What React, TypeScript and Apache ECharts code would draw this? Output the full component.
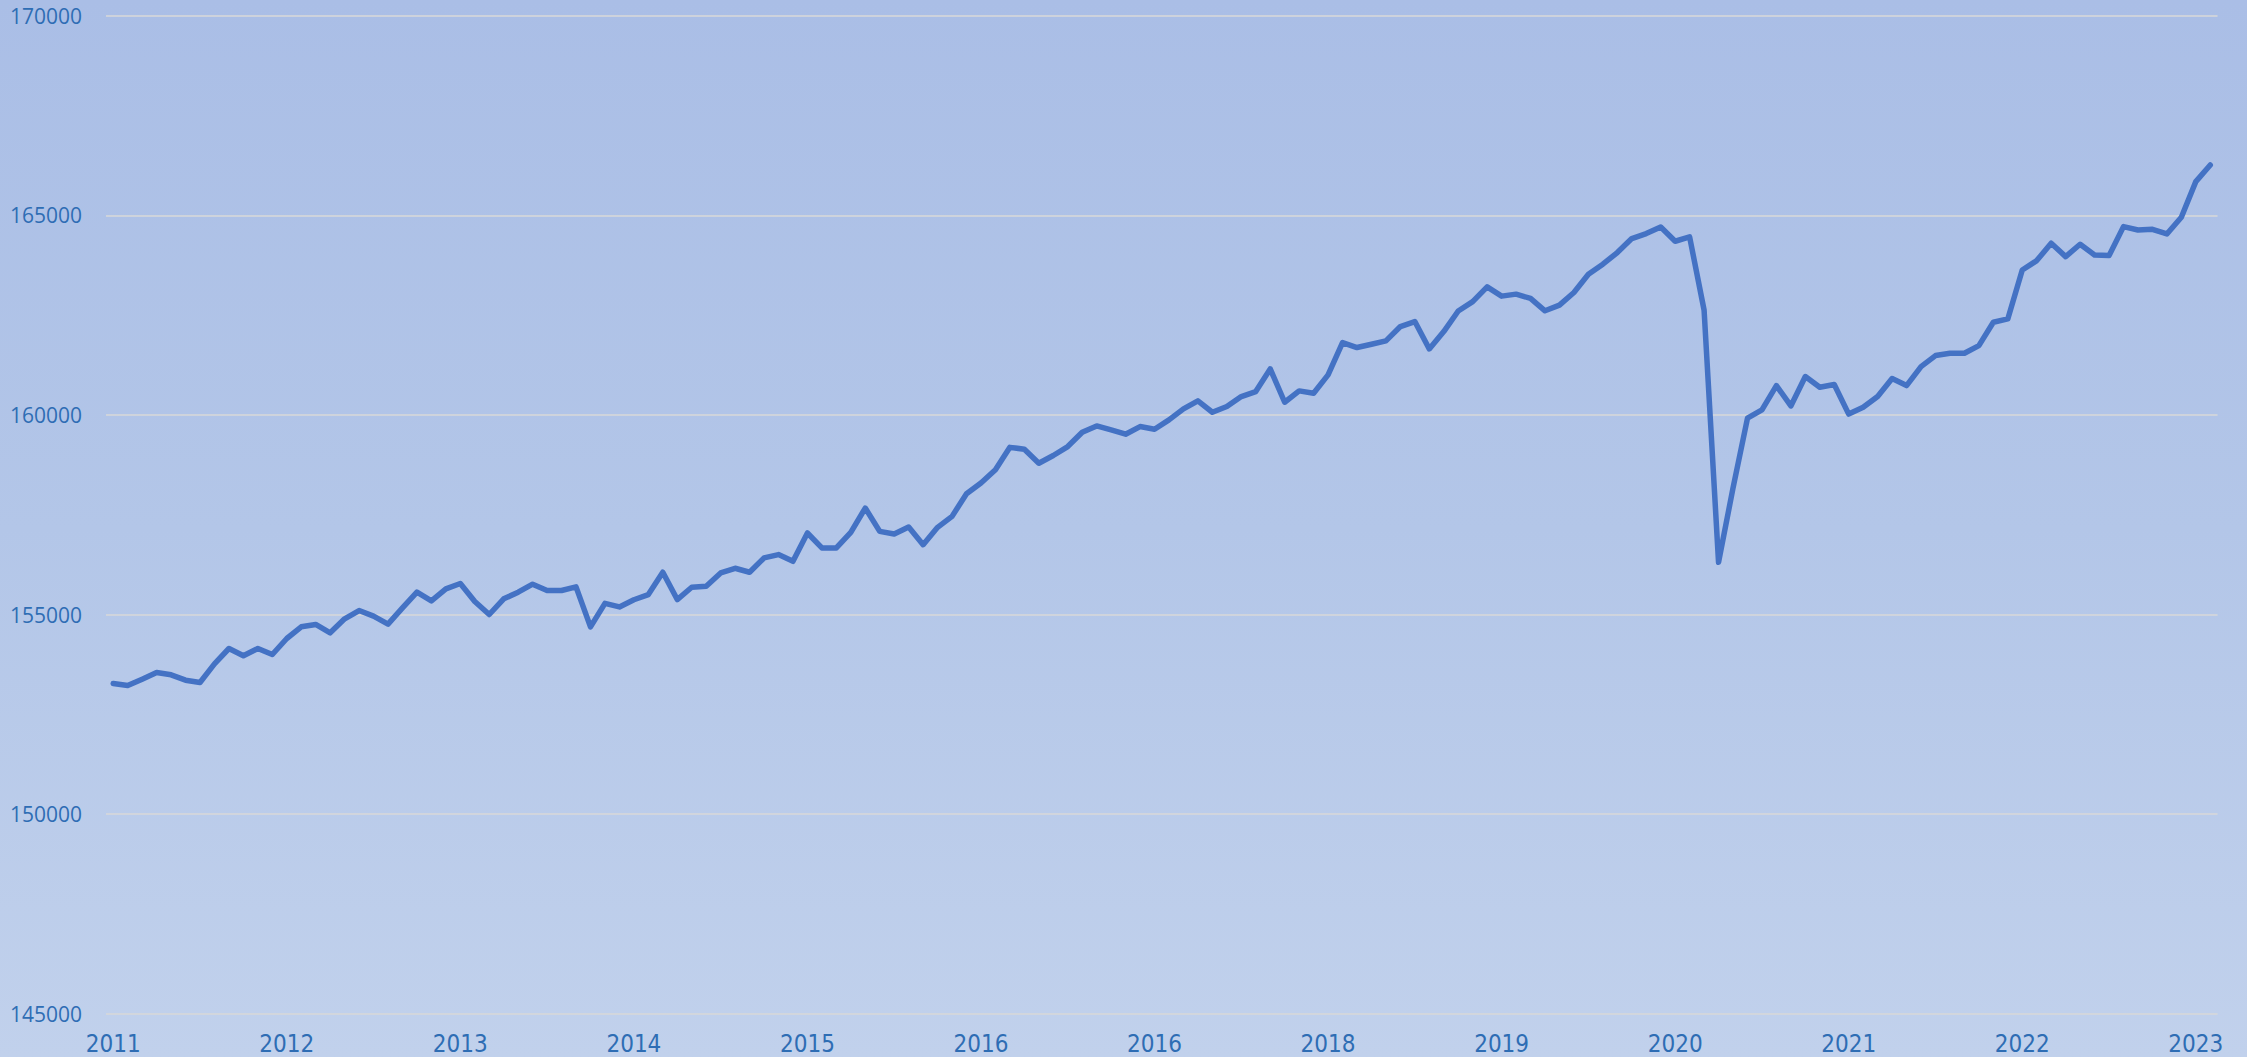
import React, { useEffect, useRef } from "react";
import * as echarts from "echarts";

const startYear = 2011;
const tickLabels = ["2011", "2012", "2013", "2014", "2015", "2016", "2016", "2018", "2019", "2020", "2021", "2022", "2023"];

const values2011 = [153272, 153221, 153380, 153547, 153489, 153355, 153297, 153764, 154148, 153965, 154148, 153998];
const values2012 = [154399, 154691, 154750, 154541, 154891, 155100, 154958, 154758, 155167, 155559, 155342, 155643];
const values2013 = [155777, 155326, 155000, 155392, 155559, 155760, 155601, 155601, 155693, 154690, 155280, 155190];
const values2014 = [155370, 155500, 156058, 155375, 155683, 155708, 156042, 156158, 156058, 156417, 156500, 156333];
const values2015 = [157042, 156667, 156667, 157058, 157667, 157083, 157017, 157192, 156750, 157183, 157458, 158025];
const values2016 = [158292, 158625, 159187, 159141, 158790, 158982, 159207, 159566, 159724, 159624, 159516, 159708];
const values2017 = [159641, 159875, 160150, 160351, 160067, 160209, 160459, 160585, 161152, 160317, 160601, 160543];
const values2018 = [161002, 161812, 161687, 161770, 161854, 162213, 162338, 161653, 162088, 162603, 162836, 163208];
const values2019 = [162975, 163025, 162917, 162608, 162750, 163067, 163525, 163775, 164067, 164417, 164542, 164708];
const values2020 = [164350, 164458, 162625, 156308, 158167, 159917, 160125, 160733, 160225, 160960, 160692, 160760];
const values2021 = [160020, 160190, 160459, 160910, 160735, 161210, 161486, 161544, 161544, 161736, 162321, 162404];
const values2022 = [163631, 163865, 164299, 163965, 164274, 164007, 163990, 164716, 164633, 164649, 164533, 164950];
const values2023 = [165843, 166260];

const seriesValues = [
  ...values2011, ...values2012, ...values2013, ...values2014, ...values2015, ...values2016,
  ...values2017, ...values2018, ...values2019, ...values2020, ...values2021, ...values2022, ...values2023,
];

const categories = seriesValues.map((_, i) => {
  const y = startYear + Math.floor(i / 12);
  const m = (i % 12) + 1;
  return `${y}-${m < 10 ? "0" + m : m}`;
});

const yMin = 145000;
const yMax = 170000;
const yStep = 5000;

export default function App() {
  const ref = useRef<HTMLDivElement>(null);

  useEffect(() => {
    if (!ref.current) return;
    const chart = echarts.init(ref.current, undefined, { renderer: "svg" });
    chart.setOption({
      animation: false,
      backgroundColor: "transparent",
      grid: { left: 106, right: 29.5, top: 15.7, bottom: 43.3, containLabel: false },
      xAxis: {
        type: "category",
        data: categories,
        boundaryGap: true,
        axisLine: { show: false },
        axisTick: { show: false },
        splitLine: { show: false },
        axisLabel: {
          interval: 11,
          color: "#2E6DB4",
          fontFamily: "'Liberation Sans Narrow', 'DejaVu Sans Condensed', 'Open Sans', sans-serif",
          fontSize: 24,
          margin: 18,
          formatter: (_v: string, index: number) => tickLabels[Math.floor(index / 12)] ?? "",
        },
      },
      yAxis: {
        type: "value",
        min: yMin,
        max: yMax,
        interval: yStep,
        axisLine: { show: false },
        axisTick: { show: false },
        splitLine: { show: true, lineStyle: { color: "#D9D9D9", width: 1.5 } },
        axisLabel: {
          color: "#2E6DB4",
          fontFamily: "'Open Sans', sans-serif",
          fontSize: 21,
          margin: 24,
          formatter: (v: number) => String(v),
        },
      },
      series: [
        {
          type: "line",
          data: seriesValues,
          showSymbol: false,
          symbol: "none",
          lineStyle: { color: "#4472C4", width: 5.5, join: "round", cap: "round" },
          itemStyle: { color: "#4472C4" },
        },
      ],
    });
    return () => chart.dispose();
  }, []);

  return (
    <div
      ref={ref}
      style={{
        position: "fixed",
        left: 0,
        top: 0,
        width: 2247,
        height: 1057,
        background: "linear-gradient(180deg, #AABEE6 0%, #B3C6E8 50%, #C1D1EC 100%)",
      }}
    />
  );
}
